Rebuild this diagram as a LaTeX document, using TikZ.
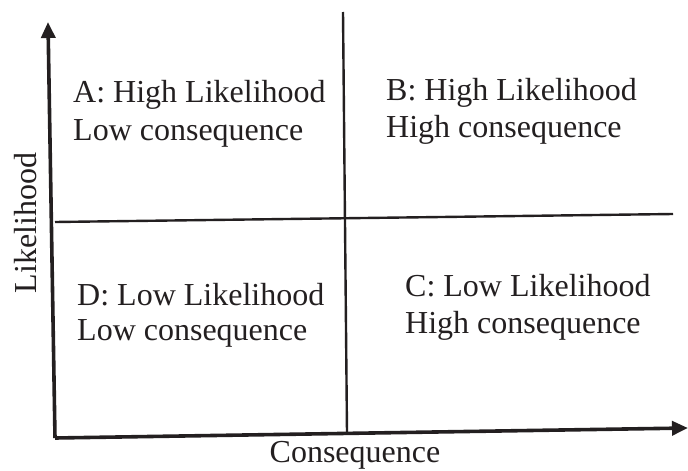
\documentclass[tikz,border=0pt]{standalone}
\usepackage{fontspec}
\setmainfont{Liberation Serif}
\usetikzlibrary{arrows.meta}
\definecolor{ink}{HTML}{231F20}
\begin{document}
\begin{tikzpicture}[x=1pt,y=-1pt,
  axis/.style={draw=ink,line width=3.6pt,-{Triangle[length=16pt,width=14pt]}},
  divider/.style={draw=ink,line width=2.4pt},
  lbl/.style={font=\fontsize{32}{38}\selectfont,text=ink,inner sep=0pt,anchor=base west}]
\useasboundingbox (0,0) rectangle (688,471);
\coordinate (o) at (55,438);
\coordinate (ytop) at (48,22);
\coordinate (xend) at (688,428);
\coordinate (vtop) at (343,12);
\coordinate (vbot) at (347,433);
\coordinate (hl) at (55,222);
\coordinate (hr) at (673,214);
\draw[divider] (vtop) -- (vbot);
\draw[divider] (hl) -- (hr);
\draw[axis] (o) -- (ytop);
\draw[axis] (o) -- (xend);
\node[lbl] (a1) at (73,102) {A: High Likelihood};
\node[lbl] (a2) at (73,140) {Low consequence};
\node[lbl] (b1) at (386,100) {B: High Likelihood};
\node[lbl] (b2) at (386,137) {High consequence};
\node[lbl] (d1) at (77,305) {D: Low Likelihood};
\node[lbl] (d2) at (77,340) {Low consequence};
\node[lbl] (c1) at (405,296) {C: Low Likelihood};
\node[lbl] (c2) at (405,333) {High consequence};
\node[lbl,anchor=base,rotate=90] (yl) at (36,223) {Likelihood};
\node[lbl,anchor=base] (xl) at (355,462) {Consequence};
\end{tikzpicture}
\end{document}
